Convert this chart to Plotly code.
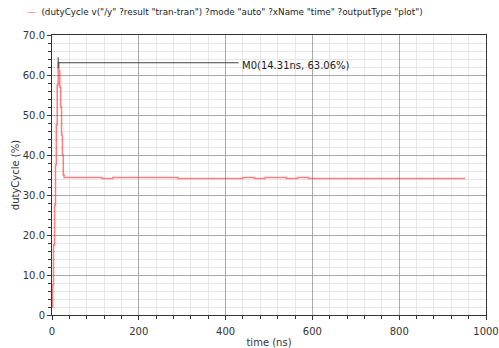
import plotly.graph_objects as go

# ---- data ----
time_ns = [0, 1.5, 3.5, 6, 8, 10, 12, 14.31, 16, 18, 20, 22, 24, 26, 28,
           115, 140, 290, 440, 467, 491, 540, 566, 591, 952]
duty_pct = [2.0, 7.5, 17.5, 27.5, 37.5, 47.5, 57.5, 63.06, 61.0, 57.0, 52.0, 45.0, 40.0, 35.0, 34.4,
            34.1, 34.4, 34.1, 34.4, 34.1, 34.4, 34.1, 34.4, 34.1, 34.1]

marker_time = [14.31]
marker_value = [63.06]
marker_line_end = 430
marker_label = "M0(14.31ns, 63.06%)"

x_ticks = [0, 200, 400, 600, 800, 1000]
x_ticklabels = ["0", "200", "400", "600", "800", "1000"]
y_ticks = [0, 10, 20, 30, 40, 50, 60, 70]
y_ticklabels = ["0", "10.0", "20.0", "30.0", "40.0", "50.0", "60.0", "70.0"]

legend_text = '(dutyCycle v("/y" ?result "tran-tran") ?mode "auto" ?xName "time" ?outputType "plot")'

FONT = "DejaVu Sans"

fig = go.Figure()

fig.add_trace(go.Scatter(
    x=time_ns, y=duty_pct, mode="lines", line_shape="hv",
    line=dict(color="rgba(255,40,40,0.6)", width=1.5),
    showlegend=False, hoverinfo="skip"))

# marker line
fig.add_trace(go.Scatter(
    x=[marker_time[0], marker_line_end], y=[marker_value[0], marker_value[0]],
    mode="lines", line=dict(color="#444444", width=1), showlegend=False))
fig.add_trace(go.Scatter(
    x=marker_time, y=marker_value, mode="markers",
    marker=dict(symbol="line-ns", size=8, line=dict(color="#444444", width=1)),
    showlegend=False))

fig.add_annotation(x=marker_line_end, y=marker_value[0], xref="x", yref="y",
                   text=marker_label, showarrow=False, xanchor="left", yanchor="middle",
                   xshift=1, yshift=-3, font=dict(family=FONT, size=10, color="#222222"))

fig.add_annotation(x=-0.062, y=1.082, xref="paper", yref="paper",
                   text='<span style="color:#ff5050">—</span>  ' + legend_text,
                   showarrow=False, xanchor="left", yanchor="middle",
                   font=dict(family=FONT, size=8.8, color="#222222"))

axis_common = dict(
    showline=True, linecolor="#333333", linewidth=1, mirror=True,
    ticks="outside", ticklen=4, tickcolor="#333333",
    tickfont=dict(family=FONT, size=10, color="#333333"),
    showgrid=True, gridcolor="#a8a8a8", gridwidth=1, zeroline=False,
    automargin=False,
)

fig.update_xaxes(
    range=[0, 1000], tickvals=x_ticks, ticktext=x_ticklabels, ticklabelstandoff=3,
    title=dict(text="time (ns)", font=dict(family=FONT, size=10, color="#333333"), standoff=4),
    minor=dict(dtick=40, showgrid=True, gridcolor="#e6e6e6", ticks="outside", ticklen=3, tickcolor="#333333"),
    **axis_common)
fig.update_yaxes(
    range=[0, 70], tickvals=y_ticks, ticktext=y_ticklabels,
    title=dict(text="dutyCycle (%)", font=dict(family=FONT, size=10, color="#333333"), standoff=1),
    minor=dict(dtick=2, showgrid=True, gridcolor="#e6e6e6", ticks="outside", ticklen=3, tickcolor="#333333"),
    **axis_common)

fig.update_layout(
    width=499, height=348,
    margin=dict(l=52, r=13, t=35, b=33),
    plot_bgcolor="white", paper_bgcolor="white",
    showlegend=False,
)

fig.write_html("out.html")
